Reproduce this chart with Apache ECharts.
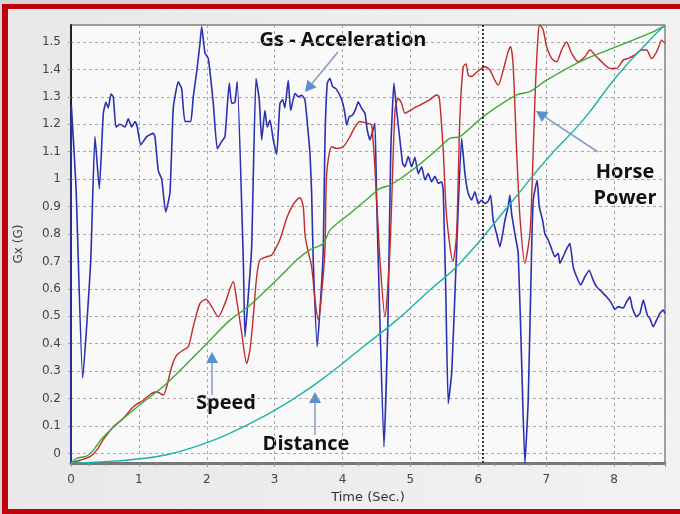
<!DOCTYPE html>
<html>
<head>
<meta charset="utf-8">
<script src="https://cdn.jsdelivr.net/npm/echarts@6/dist/echarts.min.js"></script>
<style>
    html, body { margin: 0; padding: 0; background: #d4d4d4; }
    #frame {
        position: absolute; left: 2px; top: 4px; width: 678px; height: 510px;
        box-sizing: border-box;
        border-top: 5px solid #c2000b; border-left: 6px solid #c2000b; border-bottom: 5px solid #c2000b;
        background: linear-gradient(to right, #e8e8e8, #f2f2f2);
    }
    #chart { position: absolute; left: 0; top: 0; width: 680px; height: 514px; }
</style>
</head>
<body>
<div id="frame"></div>
<div id="chart"></div>
<script>
    // y axis ticks
    var yTicks = [0, 0.1, 0.2, 0.3, 0.4, 0.5, 0.6, 0.7, 0.8, 0.9, 1, 1.1, 1.2, 1.3, 1.4, 1.5];

    // Gs - Acceleration (blue)
    var accTime = [0, 0.005, 0.074, 0.172, 0.29, 0.353, 0.417, 0.476, 0.515, 0.549, 0.589, 0.623, 0.663, 0.722, 0.795, 0.844, 0.894, 0.943, 0.976,
        1.027, 1.115, 1.212, 1.237, 1.286, 1.336, 1.395, 1.458, 1.507, 1.58, 1.63, 1.679, 1.763, 1.801, 1.851, 1.9, 1.925, 1.973,
        2.022, 2.096, 2.155, 2.219, 2.268, 2.331, 2.367, 2.415, 2.449, 2.538, 2.563, 2.607, 2.661, 2.725, 2.773, 2.809, 2.857, 2.891, 2.931, 2.98,
        3.029, 3.078, 3.118, 3.15, 3.2, 3.236, 3.299, 3.348, 3.398, 3.446, 3.495, 3.52, 3.545, 3.568, 3.627, 3.677, 3.716, 3.741, 3.775, 3.814, 3.854, 3.903, 3.987,
        4.035, 4.06, 4.099, 4.149, 4.197, 4.231, 4.281, 4.33, 4.364, 4.404, 4.443, 4.477, 4.502, 4.526, 4.61, 4.67, 4.71, 4.757, 4.797, 4.845, 4.885, 4.919, 4.968,
        5.018, 5.066, 5.115, 5.165, 5.214, 5.262, 5.312, 5.361, 5.41, 5.459, 5.483, 5.52, 5.557, 5.61, 5.68, 5.754, 5.803, 5.851, 5.901, 5.95, 5.999,
        6.049, 6.097, 6.146, 6.181, 6.219, 6.27, 6.318, 6.358, 6.392, 6.44, 6.465, 6.49, 6.539, 6.588, 6.642, 6.686, 6.735, 6.785, 6.809, 6.867, 6.897, 6.947, 6.981,
        7.03, 7.08, 7.128, 7.177, 7.202, 7.25, 7.29, 7.349, 7.398, 7.448, 7.507, 7.57, 7.633, 7.692, 7.742, 7.816, 7.89, 7.963,
        8.012, 8.06, 8.134, 8.184, 8.233, 8.27, 8.33, 8.38, 8.43, 8.49, 8.527, 8.576, 8.625, 8.674, 8.724, 8.75];
    var accVal = [-0.03, 1.27, 0.97, 0.275, 0.7, 1.155, 0.965, 1.24, 1.28, 1.26, 1.31, 1.3, 1.19, 1.2, 1.19, 1.22, 1.19, 1.21, 1.19,
        1.125, 1.155, 1.167, 1.155, 1.03, 1.0, 0.88, 0.95, 1.26, 1.355, 1.33, 1.21, 1.21, 1.3, 1.39, 1.495, 1.556, 1.46,
        1.44, 1.276, 1.11, 1.137, 1.155, 1.35, 1.276, 1.28, 1.355, 0.705, 0.425, 0.56, 0.75, 1.368, 1.29, 1.143, 1.25, 1.19, 1.215, 1.143,
        1.09, 1.276, 1.29, 1.26, 1.36, 1.25, 1.313, 1.3, 1.306, 1.29, 1.167, 1.094, 0.948, 0.705, 0.389, 0.56, 0.74, 1.143, 1.35, 1.368, 1.337, 1.33, 1.29,
        1.24, 1.197, 1.228, 1.234, 1.258, 1.282, 1.258, 1.24, 1.179, 1.143, 1.173, 1.204, 0.924, 0.705, 0.024, 0.5, 1.1, 1.35, 1.25, 1.143, 1.058, 1.045, 1.082,
        1.045, 1.08, 1.02, 1.045, 0.997, 1.02, 0.99, 1.01, 0.985, 0.99, 0.96, 0.6, 0.182, 0.3, 0.74, 1.149, 1.02, 0.948, 0.924, 0.954, 0.91,
        0.924, 0.91, 0.92, 0.942, 0.85, 0.8, 0.753, 0.8, 0.85, 0.9, 0.942, 0.875, 0.8, 0.73, 0.3, -0.036, 0.194, 0.74, 0.924, 0.997, 0.9, 0.85, 0.8,
        0.778, 0.745, 0.717, 0.73, 0.693, 0.717, 0.74, 0.766, 0.68, 0.644, 0.614, 0.644, 0.668, 0.632, 0.608, 0.59, 0.571, 0.547,
        0.525, 0.535, 0.53, 0.553, 0.571, 0.529, 0.498, 0.51, 0.559, 0.504, 0.492, 0.462, 0.486, 0.51, 0.523, 0.51];

    // Horse Power (red)
    var hpTime = [0, 0.133, 0.28, 0.378, 0.476, 0.623, 0.77, 0.918, 1.065, 1.189, 1.262, 1.359, 1.409, 1.483, 1.557, 1.654, 1.728, 1.801, 1.9, 1.988,
        2.072, 2.169, 2.268, 2.39, 2.44, 2.514, 2.588, 2.636, 2.685, 2.735, 2.783, 2.882, 2.956, 3.004, 3.078, 3.181, 3.255, 3.324, 3.373, 3.421, 3.446, 3.48,
        3.545, 3.594, 3.643, 3.692, 3.741, 3.766, 3.839, 3.913, 4.01, 4.109, 4.183, 4.256, 4.355, 4.429, 4.502, 4.551, 4.624, 4.698, 4.772, 4.82, 4.87, 4.919, 4.993,
        5.091, 5.189, 5.287, 5.386, 5.424, 5.483, 5.533, 5.626, 5.68, 5.729, 5.778, 5.818, 5.851, 5.901, 5.975, 6.049, 6.097, 6.171, 6.244, 6.293, 6.367, 6.44, 6.476,
        6.514, 6.564, 6.613, 6.686, 6.76, 6.785, 6.834, 6.882, 6.907, 6.956, 7.006, 7.08, 7.153, 7.227, 7.3, 7.374, 7.471, 7.57, 7.644, 7.742, 7.84, 7.938,
        8.037, 8.134, 8.208, 8.306, 8.405, 8.479, 8.552, 8.601, 8.65, 8.7, 8.75];
    var hpVal = [-0.035, -0.025, -0.012, 0.012, 0.05, 0.097, 0.128, 0.17, 0.194, 0.219, 0.225, 0.213, 0.243, 0.316, 0.358, 0.377, 0.389, 0.462, 0.547, 0.562,
        0.535, 0.498, 0.547, 0.626, 0.56, 0.44, 0.328, 0.377, 0.498, 0.644, 0.705, 0.717, 0.723, 0.742, 0.78, 0.86, 0.9, 0.924, 0.932, 0.9, 0.8, 0.75,
        0.68, 0.56, 0.486, 0.583, 0.742, 1.02, 1.118, 1.112, 1.118, 1.155, 1.19, 1.21, 1.204, 1.197, 0.924, 0.705, 0.498, 0.742, 1.25, 1.294, 1.276, 1.24, 1.25,
        1.264, 1.276, 1.29, 1.307, 1.3, 1.106, 0.863, 0.7, 0.8, 1.228, 1.41, 1.42, 1.38, 1.374, 1.39, 1.404, 1.41, 1.398, 1.36, 1.343, 1.398, 1.465, 1.483,
        1.41, 1.106, 0.863, 0.693, 0.8, 0.924, 1.29, 1.53, 1.562, 1.544, 1.483, 1.44, 1.428, 1.471, 1.5, 1.459, 1.428, 1.446, 1.471, 1.446, 1.422, 1.404,
        1.404, 1.434, 1.44, 1.453, 1.471, 1.471, 1.44, 1.453, 1.477, 1.507, 1.495];

    // Speed (green)
    var speedTime = [0, 0.084, 0.231, 0.329, 0.476, 0.918, 1.409, 1.998, 2.342, 2.636, 3.078, 3.324, 3.52, 3.716, 3.814, 4.109, 4.404, 4.551, 4.698, 4.894,
        5.091, 5.386, 5.58, 5.729, 6.073, 6.564, 6.76, 7.006, 7.545, 8.037, 8.527, 8.75];
    var speedVal = [-0.035, -0.018, -0.01, 0.012, 0.06, 0.158, 0.255, 0.4, 0.486, 0.54, 0.644, 0.705, 0.742, 0.765, 0.814, 0.875, 0.936, 0.966, 0.978, 1.009,
        1.045, 1.106, 1.149, 1.155, 1.228, 1.307, 1.319, 1.361, 1.434, 1.483, 1.532, 1.56];

    // Distance (teal)
    var distTime = [0, 0.427, 0.918, 1.409, 1.9, 2.39, 2.831, 3.324, 3.814, 4.305, 4.797, 5.287, 5.729, 6.515, 7.0, 7.545, 8.037, 8.527, 8.75];
    var distVal = [-0.035, -0.031, -0.022, -0.005, 0.03, 0.079, 0.134, 0.206, 0.292, 0.389, 0.486, 0.596, 0.693, 0.924, 1.07, 1.216, 1.374, 1.507, 1.562];

    // 竖向虚线位置
    var markTime = 6.07;

    function pairs(xs, ys) {
        var out = [];
        for (var i = 0; i < xs.length; i++) {
            out.push([xs[i], ys[i]]);
        }
        return out;
    }

    // 箭头: 线 + 三角
    function arrow(x1, y1, x2, y2) {
        var dx = x2 - x1, dy = y2 - y1;
        var len = Math.sqrt(dx * dx + dy * dy);
        var ux = dx / len, uy = dy / len;
        var hl = 11, hw = 6;
        var bx = x2 - ux * hl, by = y2 - uy * hl;
        return [
            {
                type: 'line',
                shape: {x1: x1, y1: y1, x2: bx, y2: by},
                style: {stroke: '#7f9dc4', lineWidth: 1.5}
            },
            {
                type: 'polygon',
                shape: {points: [[x2, y2], [bx - uy * hw, by + ux * hw], [bx + uy * hw, by - ux * hw]]},
                style: {fill: '#5b8fd0'}
            }
        ];
    }

    var labelFont = {fontFamily: 'Open Sans', fontWeight: 'bold', fontSize: 20, fill: '#111'};

    function note(text, x, y) {
        return {
            type: 'text',
            x: x, y: y,
            style: Object.assign({text: text, align: 'center', verticalAlign: 'middle', lineHeight: 26}, labelFont)
        };
    }

    var graphics = []
        .concat(arrow(338, 52, 305, 92))
        .concat(arrow(598, 152, 536, 111))
        .concat(arrow(212, 395, 212, 352))
        .concat(arrow(315, 435, 315, 392))
        .concat([
            note('Gs - Acceleration', 343, 40),
            note('Horse\nPower', 625, 185),
            note('Speed', 226, 403),
            note('Distance', 306, 444)
        ]);

    var myChart = echarts.init(document.getElementById('chart'));

    var option = {
        animation: false,
        backgroundColor: 'transparent',
        grid: {
            left: 71, top: 25, right: 15, bottom: 51,
            show: true,
            backgroundColor: '#f9f9f9',
            borderColor: '#444',
            borderWidth: 1
        },
        xAxis: {
            type: 'value',
            min: 0,
            max: 8.75,
            interval: 1,
            name: 'Time (Sec.)',
            nameLocation: 'middle',
            nameGap: 25,
            nameTextStyle: {fontFamily: 'DejaVu Sans', fontSize: 13, color: '#333'},
            axisLine: {onZero: false, lineStyle: {color: '#777', width: 3}},
            axisTick: {show: true, length: 4, lineStyle: {color: '#999'}},
            minorTick: {show: true, splitNumber: 4, length: 3, lineStyle: {color: '#999'}},
            axisLabel: {fontFamily: 'DejaVu Sans', fontSize: 12, color: '#444', margin: 11, showMaxLabel: false},
            splitLine: {show: true, lineStyle: {color: '#a8a8a8', type: [3, 3], width: 1}}
        },
        yAxis: {
            type: 'value',
            min: -0.035,
            max: 1.562,
            name: 'Gx (G)',
            nameLocation: 'middle',
            nameGap: 46,
            nameTextStyle: {fontFamily: 'DejaVu Sans', fontSize: 12, color: '#444'},
            axisLine: {show: true, onZero: false, lineStyle: {color: '#222', width: 2}},
            axisTick: {show: true, length: 3, customValues: yTicks, lineStyle: {color: '#999'}},
            axisLabel: {fontFamily: 'DejaVu Sans', fontSize: 12, color: '#444', margin: 10, customValues: yTicks},
            splitLine: {show: true, lineStyle: {color: '#a8a8a8', type: [3, 3], width: 1}}
        },
        series: [
            {
                name: 'Gs - Acceleration',
                type: 'line',
                data: pairs(accTime, accVal),
                showSymbol: false,
                smooth: 0.15,
                lineStyle: {color: '#2b30b0', width: 1.6},
                markLine: {
                    silent: true,
                    symbol: 'none',
                    label: {show: false},
                    lineStyle: {color: '#333', type: 'dotted', width: 2},
                    data: [{xAxis: markTime}]
                }
            },
            {
                name: 'Horse Power',
                type: 'line',
                data: pairs(hpTime, hpVal),
                showSymbol: false,
                smooth: 0.25,
                lineStyle: {color: '#c02a2a', width: 1.4}
            },
            {
                name: 'Speed',
                type: 'line',
                data: pairs(speedTime, speedVal),
                showSymbol: false,
                smooth: 0.3,
                lineStyle: {color: '#3aaa35', width: 1.4}
            },
            {
                name: 'Distance',
                type: 'line',
                data: pairs(distTime, distVal),
                showSymbol: false,
                smooth: true,
                lineStyle: {color: '#1fb3a6', width: 1.4}
            }
        ],
        graphic: graphics
    };
    myChart.setOption(option);
</script>
</body>
</html>
